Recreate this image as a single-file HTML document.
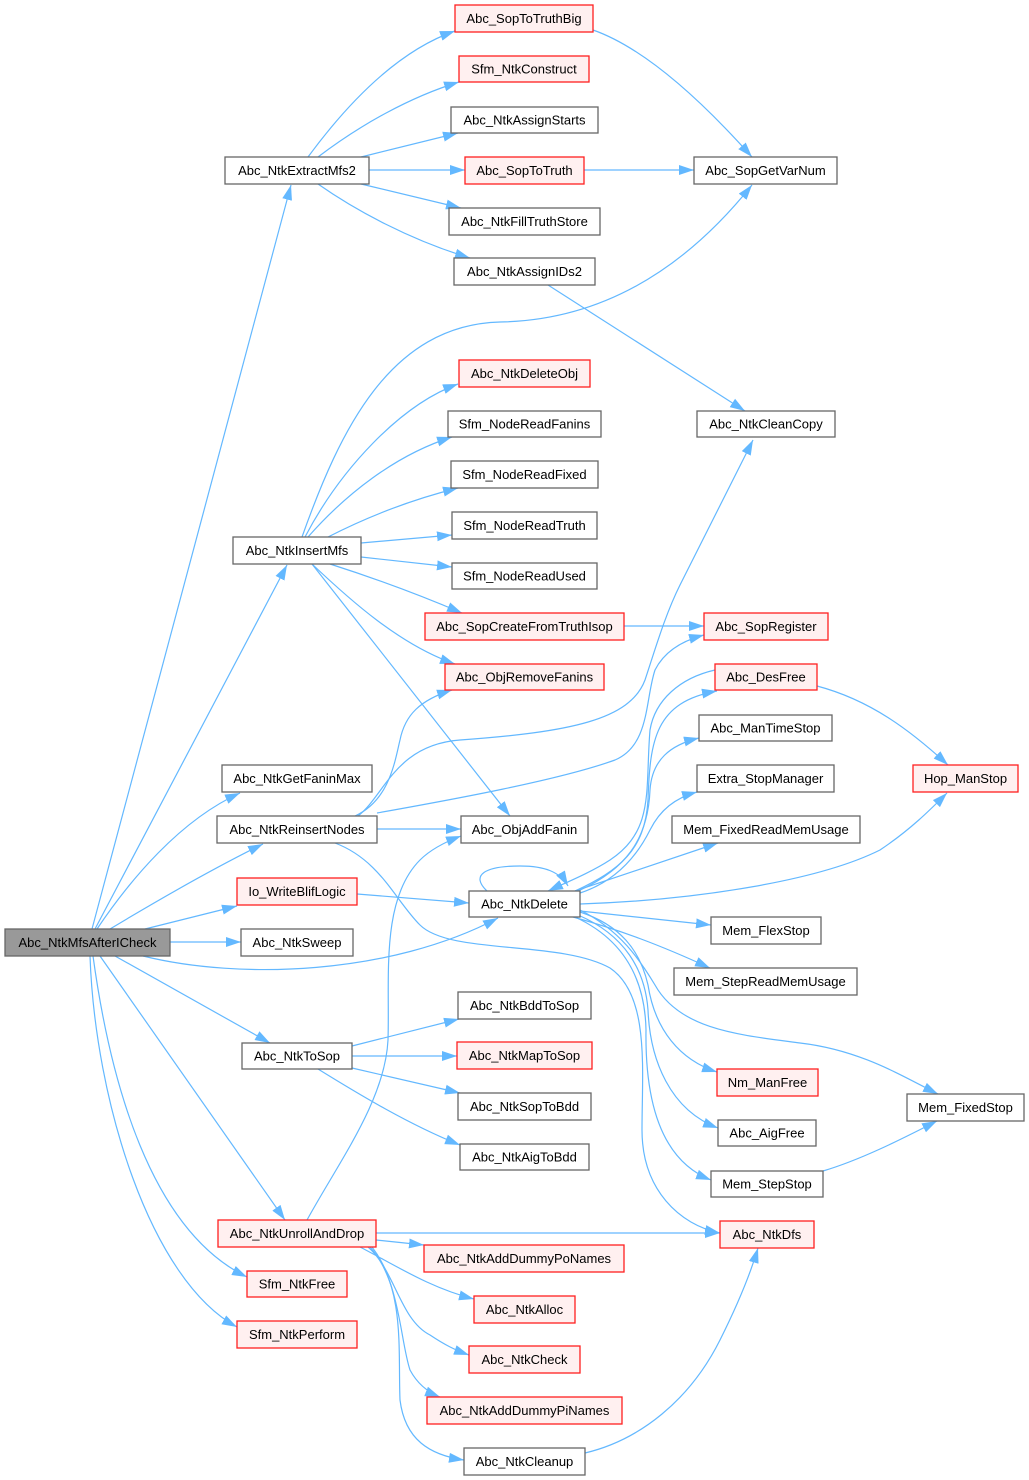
<!DOCTYPE html>
<html>
<head>
<meta charset="utf-8">
<style>
html,body{margin:0;padding:0;background:#fff;}
svg{display:block;}
text{font-family:"Liberation Sans",Arial,sans-serif;font-size:13px;fill:#000;text-anchor:middle;}
.n{fill:#fff;stroke:#666;stroke-width:1.3;}
.r{fill:#fff0f0;stroke:#ff2020;stroke-width:1.3;}
.g{fill:#999;stroke:#666;stroke-width:1.3;}
.e{fill:none;stroke:#63b8ff;stroke-width:1.2;marker-end:url(#ah);}
</style>
</head>
<body>
<svg width="1029" height="1480" viewBox="0 0 1029 1480" xmlns="http://www.w3.org/2000/svg">
<defs>
<marker id="ah" markerWidth="16" markerHeight="12" refX="15" refY="5.5" orient="auto" markerUnits="userSpaceOnUse">
<path d="M0,0.5 L15,5.5 L0,10.5 z" fill="#63b8ff"/>
</marker>
</defs>

<!-- edges from root -->
<path class="e" d="M92,929 L291,185"/>
<path class="e" d="M95,929 L287,565"/>
<path class="e" d="M97,929 C130,880 180,820 240,793"/>
<path class="e" d="M110,929 C150,905 210,870 263,844"/>
<path class="e" d="M145,929 L237,906"/>
<path class="e" d="M170,942 L241,942"/>
<path class="e" d="M143,956 C240,980 390,975 498,918"/>
<path class="e" d="M115,956 L270,1043"/>
<path class="e" d="M100,956 L285,1220"/>
<path class="e" d="M93,956 C110,1080 150,1230 247,1277"/>
<path class="e" d="M90,956 C95,1100 150,1280 237,1327"/>

<!-- Abc_NtkExtractMfs2 -->
<path class="e" d="M308,157 C350,100 400,50 455,31"/>
<path class="e" d="M318,157 C360,125 410,97 459,82"/>
<path class="e" d="M361,157 L458,133"/>
<path class="e" d="M369,170 L465,170"/>
<path class="e" d="M361,184 L461,208"/>
<path class="e" d="M318,184 C355,210 410,240 470,258"/>
<path class="e" d="M593,30 C650,50 710,110 752,157"/>
<path class="e" d="M584,170 L694,170"/>
<path class="e" d="M548,285 L745,411"/>

<!-- Abc_NtkInsertMfs -->
<path class="e" d="M302,537 C340,430 390,325 500,322 C620,320 700,250 752,185"/>
<path class="e" d="M305,537 C340,470 400,405 458,384"/>
<path class="e" d="M308,537 C345,495 395,455 452,437"/>
<path class="e" d="M328,537 C365,518 410,500 458,488"/>
<path class="e" d="M361,543 L452,535"/>
<path class="e" d="M361,557 L452,567"/>
<path class="e" d="M330,564 C380,580 420,595 462,613"/>
<path class="e" d="M312,564 C350,600 400,645 455,664"/>
<path class="e" d="M312,564 L510,816"/>

<!-- Abc_NtkReinsertNodes -->
<path class="e" d="M355,816 C390,800 395,760 400,740 C405,715 420,700 452,690"/>
<path class="e" d="M358,816 C385,795 395,745 460,740 C570,732 630,720 645,680 C655,650 665,615 680,585 L753,440"/>
<path class="e" d="M377,813 C450,800 560,780 615,760 C650,745 645,700 655,670 C665,650 685,640 704,635"/>
<path class="e" d="M377,829 L461,829"/>
<path class="e" d="M335,843 C380,860 395,900 420,925 C450,955 560,940 610,968 C650,995 642,1070 642,1130 C642,1190 680,1225 720,1233"/>

<!-- Io_WriteBlifLogic -->
<path class="e" d="M357,894 L469,903"/>

<!-- SopCreateFromTruthIsop -->
<path class="e" d="M624,626 L704,626"/>

<!-- Abc_NtkDelete -->
<path class="e" d="M487,891 C470,875 485,866 520,866 C545,866 560,872 568,886"/>
<path class="e" d="M715,670 C680,678 655,700 650,730 C645,790 655,830 610,860 C590,873 565,883 548,891"/>
<path class="e" d="M575,891 C620,870 645,850 648,800 C650,740 655,702 717,691"/>
<path class="e" d="M578,891 C625,870 648,840 650,790 C652,760 670,745 699,738"/>
<path class="e" d="M580,893 C620,880 640,850 650,830 C660,810 675,798 697,792"/>
<path class="e" d="M575,891 L718,843"/>
<path class="e" d="M580,904 C700,900 820,880 880,850 C910,830 930,810 947,793"/>
<path class="e" d="M580,911 L711,925"/>
<path class="e" d="M573,917 C620,930 660,945 710,968"/>
<path class="e" d="M580,910 C620,930 640,960 655,985 C680,1030 740,1035 800,1043 C860,1050 900,1075 938,1094"/>
<path class="e" d="M580,912 C620,925 640,950 648,985 C655,1030 680,1060 717,1072"/>
<path class="e" d="M578,915 C625,935 645,970 648,1010 C650,1060 670,1110 718,1128"/>
<path class="e" d="M575,917 C625,940 645,980 646,1030 C645,1100 660,1160 711,1180"/>

<!-- Abc_DesFree -> Hop_ManStop -->
<path class="e" d="M817,686 C870,700 910,730 948,765"/>
<!-- Mem_StepStop -> Mem_FixedStop -->
<path class="e" d="M823,1171 C860,1160 900,1140 937,1121"/>

<!-- Abc_NtkToSop -->
<path class="e" d="M352,1046 L459,1019"/>
<path class="e" d="M352,1056 L457,1056"/>
<path class="e" d="M352,1068 L460,1093"/>
<path class="e" d="M318,1069 C360,1095 410,1125 460,1145"/>

<!-- Abc_NtkUnrollAndDrop -->
<path class="e" d="M307,1220 C340,1160 385,1100 388,1040 C390,980 380,900 420,860 C430,850 445,842 461,836"/>
<path class="e" d="M376,1233 L720,1233"/>
<path class="e" d="M376,1240 L424,1245"/>
<path class="e" d="M360,1247 C395,1265 430,1288 474,1299"/>
<path class="e" d="M368,1247 C395,1270 400,1320 430,1335 C445,1345 455,1350 469,1355"/>
<path class="e" d="M370,1247 C400,1280 400,1340 410,1370 C418,1385 430,1393 440,1397"/>
<path class="e" d="M372,1247 C405,1290 398,1350 400,1400 C405,1440 430,1455 464,1460"/>

<!-- Abc_NtkCleanup -> Abc_NtkDfs -->
<path class="e" d="M585,1453 C640,1440 690,1400 720,1340 C735,1310 750,1275 758,1248"/>

<!-- nodes -->
<rect class="g" x="5" y="929" width="165" height="27"/><text x="87.5" y="947">Abc_NtkMfsAfterICheck</text>
<rect class="n" x="225" y="157" width="144" height="27"/><text x="297" y="175">Abc_NtkExtractMfs2</text>
<rect class="n" x="233" y="537" width="128" height="27"/><text x="297" y="555">Abc_NtkInsertMfs</text>
<rect class="n" x="222" y="765" width="150" height="27"/><text x="297" y="783">Abc_NtkGetFaninMax</text>
<rect class="n" x="217" y="816" width="160" height="27"/><text x="297" y="834">Abc_NtkReinsertNodes</text>
<rect class="r" x="237" y="878" width="120" height="27"/><text x="297" y="896">Io_WriteBlifLogic</text>
<rect class="n" x="241" y="929" width="112" height="27"/><text x="297" y="947">Abc_NtkSweep</text>
<rect class="n" x="242" y="1043" width="110" height="26"/><text x="297" y="1060.5">Abc_NtkToSop</text>
<rect class="r" x="218" y="1220" width="158" height="27"/><text x="297" y="1238">Abc_NtkUnrollAndDrop</text>
<rect class="r" x="247" y="1271" width="100" height="26"/><text x="297" y="1288.5">Sfm_NtkFree</text>
<rect class="r" x="237" y="1321" width="120" height="27"/><text x="297" y="1339">Sfm_NtkPerform</text>

<rect class="r" x="455" y="5" width="138" height="27"/><text x="524" y="23">Abc_SopToTruthBig</text>
<rect class="r" x="459" y="56" width="130" height="26"/><text x="524" y="73.5">Sfm_NtkConstruct</text>
<rect class="n" x="451" y="107" width="147" height="26"/><text x="524.5" y="124.5">Abc_NtkAssignStarts</text>
<rect class="r" x="465" y="157" width="119" height="27"/><text x="524.5" y="175">Abc_SopToTruth</text>
<rect class="n" x="449" y="208" width="151" height="27"/><text x="524.5" y="226">Abc_NtkFillTruthStore</text>
<rect class="n" x="454" y="258" width="141" height="27"/><text x="524.5" y="276">Abc_NtkAssignIDs2</text>
<rect class="r" x="459" y="360" width="131" height="27"/><text x="524.5" y="378">Abc_NtkDeleteObj</text>
<rect class="n" x="448" y="411" width="153" height="26"/><text x="524.5" y="428.5">Sfm_NodeReadFanins</text>
<rect class="n" x="451" y="461" width="147" height="27"/><text x="524.5" y="479">Sfm_NodeReadFixed</text>
<rect class="n" x="452" y="512" width="145" height="27"/><text x="524.5" y="530">Sfm_NodeReadTruth</text>
<rect class="n" x="452" y="563" width="145" height="26"/><text x="524.5" y="580.5">Sfm_NodeReadUsed</text>
<rect class="r" x="425" y="613" width="199" height="27"/><text x="524.5" y="631">Abc_SopCreateFromTruthIsop</text>
<rect class="r" x="445" y="664" width="159" height="26"/><text x="524.5" y="681.5">Abc_ObjRemoveFanins</text>
<rect class="n" x="461" y="816" width="127" height="27"/><text x="524.5" y="834">Abc_ObjAddFanin</text>
<rect class="n" x="469" y="891" width="111" height="26"/><text x="524.5" y="908.5">Abc_NtkDelete</text>
<rect class="n" x="458" y="992" width="133" height="27"/><text x="524.5" y="1010">Abc_NtkBddToSop</text>
<rect class="r" x="457" y="1042" width="135" height="27"/><text x="524.5" y="1060">Abc_NtkMapToSop</text>
<rect class="n" x="458" y="1093" width="133" height="27"/><text x="524.5" y="1111">Abc_NtkSopToBdd</text>
<rect class="n" x="460" y="1144" width="129" height="26"/><text x="524.5" y="1161.5">Abc_NtkAigToBdd</text>
<rect class="r" x="424" y="1245" width="200" height="27"/><text x="524" y="1263">Abc_NtkAddDummyPoNames</text>
<rect class="r" x="474" y="1296" width="101" height="27"/><text x="524.5" y="1314">Abc_NtkAlloc</text>
<rect class="r" x="469" y="1346" width="111" height="27"/><text x="524.5" y="1364">Abc_NtkCheck</text>
<rect class="r" x="427" y="1397" width="195" height="27"/><text x="524.5" y="1415">Abc_NtkAddDummyPiNames</text>
<rect class="n" x="464" y="1448" width="121" height="27"/><text x="524.5" y="1466">Abc_NtkCleanup</text>

<rect class="n" x="694" y="157" width="143" height="27"/><text x="765.5" y="175">Abc_SopGetVarNum</text>
<rect class="n" x="697" y="411" width="138" height="26"/><text x="766" y="428.5">Abc_NtkCleanCopy</text>
<rect class="r" x="704" y="613" width="124" height="27"/><text x="766" y="631">Abc_SopRegister</text>
<rect class="r" x="715" y="664" width="102" height="26"/><text x="766" y="681.5">Abc_DesFree</text>
<rect class="n" x="699" y="715" width="133" height="26"/><text x="765.5" y="732.5">Abc_ManTimeStop</text>
<rect class="n" x="697" y="765" width="137" height="27"/><text x="765.5" y="783">Extra_StopManager</text>
<rect class="n" x="672" y="816" width="188" height="27"/><text x="766" y="834">Mem_FixedReadMemUsage</text>
<rect class="n" x="711" y="917" width="110" height="27"/><text x="766" y="935">Mem_FlexStop</text>
<rect class="n" x="674" y="968" width="183" height="27"/><text x="765.5" y="986">Mem_StepReadMemUsage</text>
<rect class="r" x="717" y="1069" width="101" height="27"/><text x="767.5" y="1087">Nm_ManFree</text>
<rect class="n" x="718" y="1120" width="98" height="26"/><text x="767" y="1137.5">Abc_AigFree</text>
<rect class="n" x="711" y="1171" width="112" height="26"/><text x="767" y="1188.5">Mem_StepStop</text>
<rect class="r" x="720" y="1221" width="94" height="27"/><text x="767" y="1239">Abc_NtkDfs</text>

<rect class="r" x="913" y="765" width="105" height="27"/><text x="965.5" y="783">Hop_ManStop</text>
<rect class="n" x="907" y="1094" width="117" height="27"/><text x="965.5" y="1112">Mem_FixedStop</text>
</svg>
</body>
</html>
